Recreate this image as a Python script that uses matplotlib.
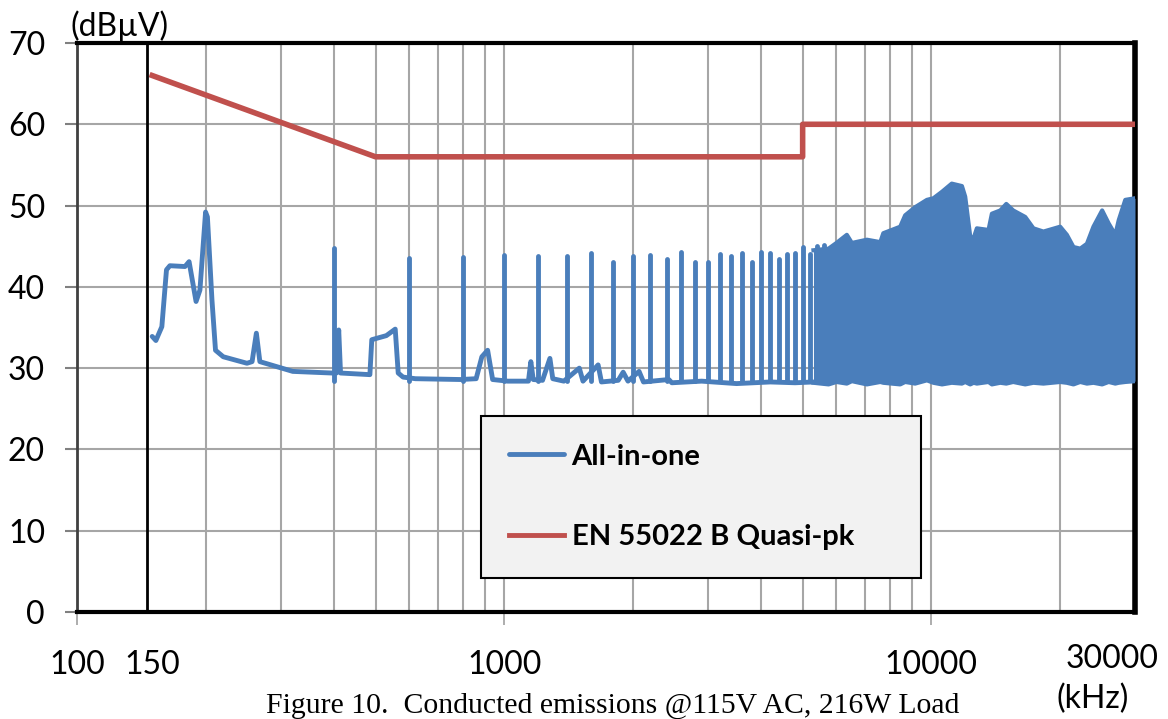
import numpy as np
import matplotlib
matplotlib.use("Agg")
import matplotlib.pyplot as plt
from matplotlib.ticker import FixedLocator, LogLocator, NullFormatter
from matplotlib.transforms import ScaledTranslation

plt.rcParams['font.family'] = ['Lato', 'DejaVu Sans']

# measured trace below ~5.3 MHz (kHz, dBuV), harmonic spikes drawn separately
base_f = [150, 153, 158, 162, 165, 179, 183, 190, 194, 200, 202, 207, 211, 220,
          250, 257, 263, 268, 320, 395, 405, 410, 414, 485, 490, 530, 556, 565,
          580, 620, 790, 860, 887, 915, 940, 1020, 1140, 1155, 1170, 1230, 1280,
          1300, 1380, 1500, 1530, 1660, 1690, 1850, 1900, 1950, 2070, 2120, 2430,
          2470, 2900, 3500, 4200, 4800, 5300]
base_db = [33.9, 33.4, 35.1, 42.1, 42.6, 42.5, 43.1, 38.2, 39.6, 49.2, 48.6, 38.4,
           32.2, 31.4, 30.6, 30.8, 34.3, 30.8, 29.6, 29.4, 29.4, 34.7, 29.4, 29.2,
           33.5, 34.0, 34.8, 29.4, 28.9, 28.7, 28.6, 28.7, 31.4, 32.2, 28.6, 28.4,
           28.4, 30.8, 28.6, 28.5, 31.2, 28.7, 28.4, 30.0, 28.4, 30.4, 28.3, 28.5,
           29.5, 28.4, 29.6, 28.3, 28.6, 28.2, 28.4, 28.1, 28.3, 28.2, 28.3]

# harmonic spikes every 200 kHz (kHz, peak dBuV)
spike_f = [400, 600, 800, 1000, 1200, 1400, 1600, 1800, 2000, 2200, 2400, 2600,
           2800, 3000, 3200, 3400, 3600, 3800, 4000, 4200, 4400, 4600, 4800, 5000,
           5200, 5400, 5600]
spike_db = [44.8, 43.6, 43.7, 43.9, 43.8, 43.8, 44.2, 43.0, 43.8, 43.9, 43.4, 44.3,
            43.1, 43.1, 44.0, 43.8, 44.2, 43.1, 44.3, 44.2, 43.4, 44.1, 44.2, 44.9,
            44.0, 45.0, 45.1]

# dense part above 5.3 MHz: top envelope and floor (kHz, dBuV)
env_f = [5300, 5750, 6000, 6345, 6520, 7070, 7600, 7725, 8460, 8690, 9170, 9770,
         10120, 10600, 11170, 11800, 12010, 12340, 12570, 12790, 13620, 13870,
         14510, 14990, 15560, 16600, 17350, 18310, 20040, 20780, 21530, 22330,
         23150, 23980, 25130, 26030, 26980, 27480, 28470, 30000]
env_db = [44.5, 44.7, 45.4, 46.4, 45.4, 45.8, 45.5, 46.6, 47.4, 48.8, 49.8, 50.7,
          50.9, 51.7, 52.7, 52.4, 51.1, 46.2, 46.0, 47.2, 47.0, 49.0, 49.4, 50.2,
          49.4, 48.6, 47.2, 46.8, 47.4, 46.4, 44.9, 44.7, 45.3, 47.4, 49.4, 47.8,
          46.4, 48.2, 50.7, 50.9]
env_floor = [28.2, 28.0, 28.3, 28.1, 28.4, 28.0, 28.3, 28.2, 28.0, 28.3, 28.1, 28.5,
             28.2, 28.0, 28.2, 28.1, 28.3, 28.0, 28.2, 28.1, 28.3, 28.0, 28.2, 28.1,
             28.3, 28.0, 28.2, 28.1, 28.3, 28.2, 28.0, 28.3, 28.1, 28.2, 28.0, 28.3,
             28.1, 28.2, 28.3, 28.4]

# EN 55022 class B quasi-peak limit
limit_f = [150, 500, 5000, 5000, 30000]
limit_db = [66, 56, 56, 60, 60]

x_ticks = [100, 150, 1000, 10000, 30000]
y_ticks = [0, 10, 20, 30, 40, 50, 60, 70]

blue = '#4a7ebb'
red = '#c0504d'

fig = plt.figure(figsize=(11.68, 7.19), dpi=100)
ax = fig.add_axes([77 / 1168, 107 / 719, 1058 / 1168, 569 / 719])
ax.set_xscale('log')
ax.set_xlim(100, 30000)
ax.set_ylim(0, 70)

# data
l_blue, = ax.plot(base_f, base_db, color=blue, lw=3.5, solid_joinstyle='round',
                  solid_capstyle='round', label='All-in-one', zorder=3)
ax.vlines(spike_f, 28.4, spike_db, colors=blue, lw=3.5, capstyle='round', zorder=3)
ax.fill_between(env_f, env_floor, env_db, color=blue, lw=0, zorder=3)
ax.plot(env_f, env_db, color=blue, lw=3, solid_joinstyle='round', zorder=3)
ax.plot(env_f, env_floor, color=blue, lw=3, zorder=3)
l_red, = ax.plot(limit_f, limit_db, color=red, lw=4, label='EN 55022 B Quasi-pk',
                 zorder=4)

# 150 kHz marker line
ax.axvline(146, color='black', lw=2, zorder=5)

# axes styling
ax.set_axisbelow(True)
ax.xaxis.set_major_locator(FixedLocator(x_ticks))
ax.set_xticklabels([str(t) for t in x_ticks])
ax.xaxis.set_minor_locator(LogLocator(base=10, subs=np.arange(2, 10), numticks=20))
ax.xaxis.set_minor_formatter(NullFormatter())
ax.set_yticks(y_ticks)
ax.grid(True, which='both', color='#a6a6a6', lw=1.5)
ax.tick_params(axis='x', which='major', labelsize=23, length=9, width=1.2,
               color='#a0a0a0', pad=18)
ax.tick_params(axis='x', which='minor', length=0)
ax.tick_params(axis='y', labelsize=23, length=9, width=1.5, color='#808080', pad=14)

for i in (1, 4):
    t = ax.xaxis.get_major_ticks()[i]
    t.tick1line.set_visible(False)
    t.gridline.set_visible(False)

for side, lw, col in (('top', 3, 'black'), ('bottom', 3, 'black'),
                      ('right', 4, 'black'), ('left', 2, '#404040')):
    ax.spines[side].set_linewidth(lw)
    ax.spines[side].set_color(col)

leg = ax.legend(handles=[l_blue, l_red], loc='lower left',
                bbox_to_anchor=(0.382, 0.06, 0.416, 0.283), mode='expand',
                prop={'weight': 'bold', 'size': 21}, frameon=True, fancybox=False,
                edgecolor='black', facecolor='#f2f2f2', framealpha=1,
                borderpad=0.95, labelspacing=1.87, handlelength=1.9,
                handletextpad=0.25, borderaxespad=0)
leg.get_frame().set_linewidth(1.5)
for h in leg.get_lines():
    h.set_linewidth(3.5)

fig.text(120 / 1168, 1 - 26 / 719, '(dBµV)', fontsize=23, ha='center', va='center')
fig.text(1093 / 1168, 1 - 699 / 719, '(kHz)', fontsize=23, ha='center', va='center')
fig.text(613 / 1168, 1 - 706 / 719,
         'Figure 10.  Conducted emissions @115V AC, 216W Load',
         family='Liberation Serif', fontsize=21.4, ha='center', va='center')

# the 30000 label sits left of its tick in the original
lab = ax.get_xticklabels()[4]
lab.set_transform(lab.get_transform() + ScaledTranslation(-0.23, 0.05, fig.dpi_scale_trans))

fig.savefig('out.png', dpi=100)
